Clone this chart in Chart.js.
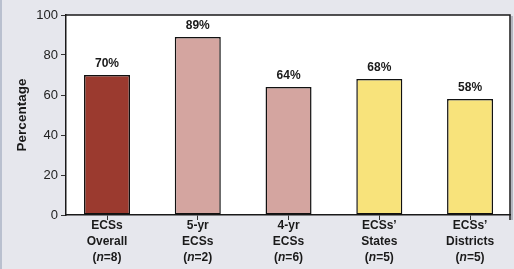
<!DOCTYPE html>
<html><head><meta charset="utf-8">
<script src="https://cdn.jsdelivr.net/npm/chart.js@4"></script>
<style>html,body{margin:0;padding:0;background:#e6e7ed;}#wrap{width:514px;height:269px;position:relative;}</style>
</head><body><div id="wrap"><canvas id="c" width="514" height="269"></canvas></div>
<script>
const categories = [["ECSs","Overall"],["5-yr","ECSs"],["4-yr","ECSs"],["ECSs\u2019","States"],["ECSs\u2019","Districts"]];
const nValues = ["8","2","6","5","5"];
const values = [70, 89, 64, 68, 58];
const valueLabels = ["70%","89%","64%","68%","58%"];
const barColors = ["#9b3a2f","#d4a5a0","#d4a5a0","#f8e37b","#f8e37b"];
const yTicks = [0,20,40,60,80,100];
const xBoundaries = [0.5,1.5,2.5,3.5];

const FONT = "'Liberation Sans', Arial, Helvetica, sans-serif";

const deco = {
  id: 'deco',
  beforeDraw(chart) {
    const {ctx, chartArea: a} = chart;
    ctx.save();
    ctx.fillStyle = '#e6e7ed';
    ctx.fillRect(0,0,chart.width,chart.height);
    ctx.fillStyle = '#b9c0cf';
    ctx.fillRect(0,0,2,chart.height);
    ctx.fillStyle = '#ffffff';
    ctx.fillRect(a.left, a.top, a.right-a.left, a.bottom-a.top);
    ctx.restore();
  },
  afterDraw(chart) {
    const {ctx, chartArea: a} = chart;
    const xs = chart.scales.x;
    ctx.save();
    ctx.strokeStyle = '#1a1a1a'; ctx.lineWidth = 1.5;
    ctx.beginPath();
    ctx.moveTo(a.left, a.top); ctx.lineTo(a.right, a.top); ctx.lineTo(a.right, a.bottom + 5);
    ctx.stroke();
    ctx.fillStyle = '#b4b6be';
    ctx.fillRect(a.right+1, a.top+1, 2, a.bottom-a.top+4);
    const meta = chart.getDatasetMeta(0);
    ctx.fillStyle = '#1a1a1a';
    ctx.font = 'bold 12px ' + FONT;
    ctx.textAlign = 'center'; ctx.textBaseline = 'bottom';
    meta.data.forEach((bar, i) => {
      ctx.fillText(valueLabels[i], bar.x, bar.y - 5);
    });
    categories.forEach((lines, i) => {
      const x = xs.getPixelForValue(i);
      const y0 = a.bottom + 11;
      ctx.font = 'bold 12px ' + FONT;
      ctx.textBaseline = 'middle'; ctx.textAlign = 'center';
      ctx.fillText(lines[0], x, y0);
      ctx.fillText(lines[1], x, y0 + 16);
      const p1 = '(', p2 = 'n', p3 = '=' + nValues[i] + ')';
      const w1 = ctx.measureText(p1).width, w3 = ctx.measureText(p3).width;
      ctx.font = 'italic bold 12px ' + FONT;
      const w2 = ctx.measureText(p2).width;
      let sx = x - (w1+w2+w3)/2;
      ctx.textAlign = 'left';
      ctx.font = 'bold 12px ' + FONT; ctx.fillText(p1, sx, y0 + 32); sx += w1;
      ctx.font = 'italic bold 12px ' + FONT; ctx.fillText(p2, sx, y0 + 32); sx += w2;
      ctx.font = 'bold 12px ' + FONT; ctx.fillText(p3, sx, y0 + 32);
    });
    ctx.translate(22, (a.top + a.bottom)/2);
    ctx.rotate(-Math.PI/2);
    ctx.font = 'bold 13.5px ' + FONT;
    ctx.textAlign = 'center'; ctx.textBaseline = 'middle';
    ctx.fillText('Percentage', 0, 0);
    ctx.restore();
  }
};

new Chart(document.getElementById('c'), {
  type: 'bar',
  data: {
    datasets: [{
      data: values.map((v, i) => ({ x: i, y: v })),
      backgroundColor: barColors,
      borderColor: '#111111',
      borderWidth: 1.5,
      borderSkipped: false,
      barPercentage: 0.507,
      categoryPercentage: 1.0
    }]
  },
  options: {
    responsive: false,
    animation: false,
    devicePixelRatio: 1,
    layout: { padding: { top: 15, right: 4, left: 0, bottom: 0 } },
    plugins: { legend: { display: false }, tooltip: { enabled: false } },
    scales: {
      x: {
        type: 'linear',
        min: -0.452, max: 4.44,
        offset: false,
        afterBuildTicks(s) { s.ticks = xBoundaries.map(v => ({ value: v })); },
        grid: { drawOnChartArea: false, drawTicks: true, tickLength: 5, color: '#333', lineWidth: 1 },
        border: { display: true, color: '#1a1a1a', width: 1.5 },
        ticks: { display: false },
        afterFit(s) { s.height = 54; }
      },
      y: {
        min: 0, max: 100,
        afterBuildTicks(s) { s.ticks = yTicks.map(v => ({ value: v })); },
        grid: { drawOnChartArea: false, drawTicks: true, tickLength: 5, color: '#333' },
        border: { display: true, color: '#1a1a1a', width: 1.5 },
        ticks: { color: '#222', font: { family: FONT, size: 13 }, padding: 3 },
        afterFit(s) { s.width = 66; }
      }
    }
  },
  plugins: [deco]
});
</script></body></html>
